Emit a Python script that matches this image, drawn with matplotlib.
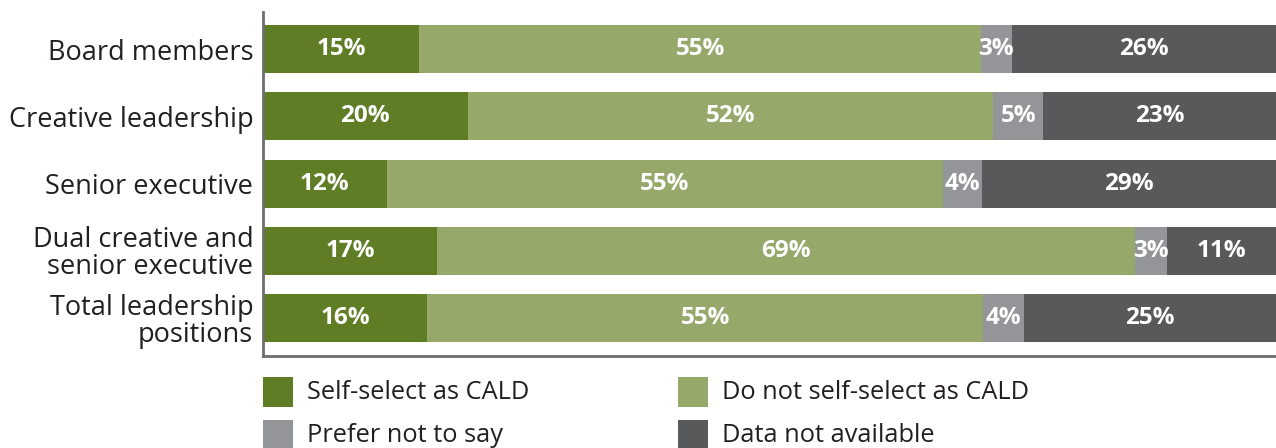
import numpy as np
import matplotlib.pyplot as plt
from matplotlib.patches import Rectangle

# категории и значения (оценка по ширине сегментов)
categories = ["Board members", "Creative leadership", "Senior executive",
              "Dual creative and\nsenior executive", "Total leadership\npositions"]
series_names = ["Self-select as CALD", "Do not self-select as CALD",
                "Prefer not to say", "Data not available"]
self_select = [15.4, 20.2, 12.2, 17.2, 16.2]
not_select = [55.5, 51.9, 54.9, 68.9, 54.9]
prefer_not = [3.0, 4.9, 3.9, 3.1, 4.0]
not_avail = [26.1, 23.0, 29.0, 10.8, 24.9]
# подписи как в исходнике
lbl_self = ["15%", "20%", "12%", "17%", "16%"]
lbl_not = ["55%", "52%", "55%", "69%", "55%"]
lbl_pref = ["3%", "5%", "4%", "3%", "4%"]
lbl_na = ["26%", "23%", "29%", "11%", "25%"]

colors = ["#5e7d24", "#97a86b", "#939598", "#58595b"]

plt.rcParams['font.family'] = ['Open Sans', 'DejaVu Sans']

W, H = 1276, 448
fig = plt.figure(figsize=(W / 100, H / 100), dpi=100)
ax = fig.add_axes([263 / W, 1 - 356 / H, 1 - 263 / W, 344 / H])

y = np.arange(len(categories))
data = [self_select, not_select, prefer_not, not_avail]
labels = [lbl_self, lbl_not, lbl_pref, lbl_na]
left = np.zeros(len(categories))
for vals, lbls, c in zip(data, labels, colors):
    vals = np.array(vals)
    ax.barh(y, vals, left=left, height=0.715, color=c, edgecolor='none')
    for i in range(len(vals)):
        ax.text(left[i] + vals[i] / 2, y[i], lbls[i], ha='center', va='center',
                color='white', fontsize=17.5, fontweight='bold')
    left += vals

ax.set_xlim(0, 100)
ax.set_ylim(4.56, -0.55)
ax.set_yticks(y)
ax.set_yticklabels(categories, fontsize=19.5, color='#231f20', linespacing=0.95)
ax.tick_params(axis='y', length=0, pad=7)
ax.set_xticks([])
for s in ['top', 'right']:
    ax.spines[s].set_visible(False)
for s in ['left', 'bottom']:
    ax.spines[s].set_color('#6d6e71')
    ax.spines[s].set_linewidth(2)

# легенда вручную: 2 строки x 2 столбца
leg_x = [263, 678]
leg_y = [377, 420]
order = [(0, 0), (0, 1), (1, 0), (1, 1)]
for (r, k), name, c in zip(order, series_names, colors):
    x0, y0 = leg_x[k], leg_y[r]
    fig.patches.append(Rectangle((x0 / W, 1 - (y0 + 30) / H), 30 / W, 30 / H,
                                 transform=fig.transFigure, facecolor=c,
                                 edgecolor='none'))
    fig.text((x0 + 44) / W, 1 - (y0 + 15) / H, name, fontsize=18.3,
             color='#231f20', va='center', ha='left')

fig.savefig("out.png", dpi=100)
